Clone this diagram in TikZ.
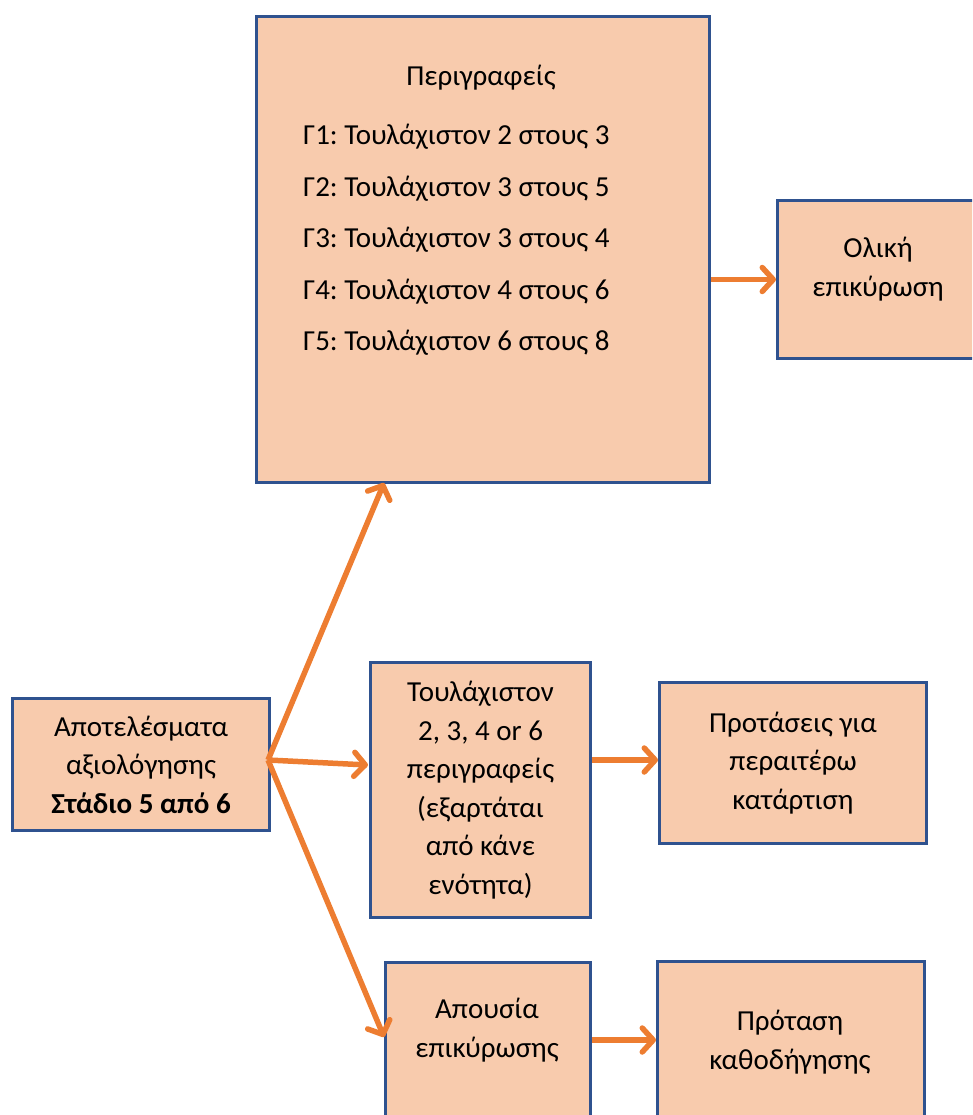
\documentclass[tikz,border=0pt]{standalone}
\usepackage{fontspec}
\setmainfont{Carlito}
\frenchspacing
\usetikzlibrary{arrows.meta,positioning}
\definecolor{peach}{HTML}{F8CBAD}
\definecolor{boxblue}{HTML}{2F528F}
\definecolor{arrorange}{HTML}{ED7D31}
\tikzset{
  box/.style={draw=boxblue, fill=peach, line width=3pt, inner sep=0pt, anchor=north west},
  txt/.style={font=\fontsize{29}{38.5}\selectfont\frenchspacing, align=center, inner sep=0pt},
  conn/.style={draw=arrorange, line width=5.5pt, -{Straight Barb[length=11pt,width=24pt,round]}},
}
\begin{document}
\begin{tikzpicture}[x=1pt,y=-1pt]
\useasboundingbox (0,0) rectangle (972,1115);
\begin{scope}
\clip (0,0) rectangle (972,1115);
% boxes
\node[box, minimum width=453pt, minimum height=466pt] (big) at (255,15) {};
\node[box, minimum width=210pt, minimum height=158pt] (oliki) at (776,199) {};
\node[box, minimum width=257pt, minimum height=132pt, txt, line width=3pt] (apot) at (11,697) {Αποτελέσματα\\αξιολόγησης\\\textbf{Στάδιο 5 από 6}};
\node[box, minimum width=220pt, minimum height=255pt, txt, line width=3pt] (toul) at (369,661) {Τουλάχιστον\\2, 3, 4 or 6\\περιγραφείς\\(εξαρτάται\\από κάνε\\ενότητα)};
\node[box, minimum width=267pt, minimum height=161pt, txt, line width=3pt] (prot) at (658,681) {Προτάσεις για\\περαιτέρω\\κατάρτιση};
\node[box, minimum width=205pt, minimum height=200pt] (apou) at (384,961) {};
\node[box, minimum width=267pt, minimum height=200pt] (kath) at (656,960) {};
% texts
\node[txt] (bigtitle) at (481,78) {Περιγραφείς};
\node[txt, align=left, font=\fontsize{29}{51.5}\selectfont\frenchspacing, anchor=west] (biglist) at (303,240) {Γ1: Τουλάχιστον 2 στους 3\\Γ2: Τουλάχιστον 3 στους 5\\Γ3: Τουλάχιστον 3 στους 4\\Γ4: Τουλάχιστον 4 στους 6\\Γ5: Τουλάχιστον 6 στους 8};
\node[txt] (olikitxt) at (878,269) {Ολική\\επικύρωση};
\node[txt] (apoutxt) at (487,1030) {Απουσία\\επικύρωσης};
\node[txt] (kathtxt) at (790,1042) {Πρόταση\\καθοδήγησης};
% connectors
\coordinate (src) at (268,760);
\coordinate (bigin) at (384,483);
\coordinate (toulin) at (368,765);
\coordinate (apouin) at (384,1037);
\draw[conn] (src) -- (bigin);
\draw[conn] (src) -- (toulin);
\draw[conn] (src) -- (apouin);
\draw[conn] (big.east |- oliki.west) -- (oliki.west);
\draw[conn] (toul.east |- 0,760) -- (prot.west |- 0,760);
\draw[conn] (apou.east |- 0,1040) -- (kath.west |- 0,1040);
\end{scope}
\end{tikzpicture}
\end{document}
